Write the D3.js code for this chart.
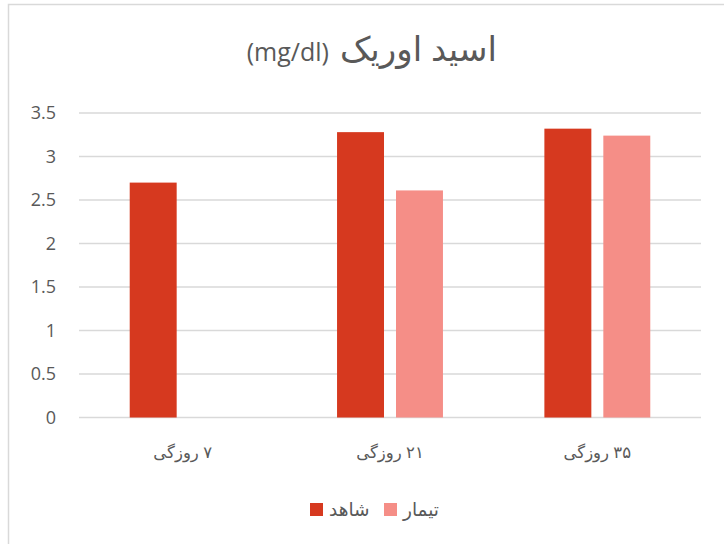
<!DOCTYPE html>
<html><head><meta charset="utf-8">
<script src="https://cdn.jsdelivr.net/npm/d3@7"></script>
<style>body{margin:0;background:#fff}svg{display:block}</style>
</head><body>
<script>
const categories = ["۷ روزگی", "۲۱ روزگی", "۳۵ روزگی"];
const seriesNames = ["شاهد", "تیمار"];
const shahedValues = [2.7, 3.28, 3.32];
const tiemarValues = [null, 2.61, 3.24];
const yTicks = [0, 0.5, 1, 1.5, 2, 2.5, 3, 3.5];
const titleFa = "اسید اوریک";
const titleUnit = "(mg/dl)";

const colors = ["#D6391F", "#F58E87"];
const W = 724, H = 544;
const font = "'Open Sans', 'DejaVu Sans', sans-serif";
const svg = d3.select("body").append("svg").attr("width", W).attr("height", H);
svg.append("rect").attr("x", 0).attr("y", 0).attr("width", W).attr("height", H).attr("fill", "#fff");
svg.append("rect").attr("x", 8.5).attr("y", 4.5).attr("width", W + 20).attr("height", H + 20)
  .attr("fill", "none").attr("stroke", "#d9d9d9").attr("stroke-width", 1.5);

const x0 = d3.scaleBand().domain(categories).range([79, 701]).padding(0);
const bw = x0.bandwidth();
const x1 = d3.scaleBand().domain(seriesNames).range([bw * 0.2446, bw * 0.7554]).paddingInner(0.2034).paddingOuter(0);
const y = d3.scaleLinear().domain([0, 3.5]).range([417.5, 113]);

// grid
svg.append("g").selectAll("line").data(yTicks).join("line")
  .attr("x1", 79).attr("x2", 701)
  .attr("y1", d => y(d)).attr("y2", d => y(d))
  .attr("stroke", "#d9d9d9").attr("stroke-width", 1.3);

// y labels
svg.append("g").selectAll("text").data(yTicks).join("text")
  .attr("x", 56).attr("y", d => y(d)).attr("dy", "0.36em")
  .attr("text-anchor", "end").attr("fill", "#595959")
  .attr("font-family", font).attr("font-size", 18).text(d => d);

const rows = categories.map((c, i) => ({cat: c, vals: [shahedValues[i], tiemarValues[i]]}));
const g = svg.append("g").selectAll("g").data(rows).join("g")
  .attr("transform", d => `translate(${x0(d.cat)},0)`);
g.selectAll("rect").data(d => d.vals.map((v, j) => ({s: seriesNames[j], v, j})).filter(e => e.v != null))
  .join("rect")
  .attr("x", d => x1(d.s)).attr("width", x1.bandwidth())
  .attr("y", d => y(d.v)).attr("height", d => y(0) - y(d.v))
  .attr("fill", d => colors[d.j]);

// x labels
svg.append("g").selectAll("text").data(categories).join("text")
  .attr("x", d => x0(d) + bw / 2).attr("y", 458)
  .attr("text-anchor", "middle").attr("fill", "#595959").attr("direction", "rtl")
  .attr("font-family", font).attr("font-size", 16.5).text(d => d);

// title
svg.append("text").attr("x", 329).attr("y", 61).attr("text-anchor", "end")
  .attr("fill", "#595959").attr("font-family", font).attr("font-size", 25).text(titleUnit);
svg.append("text").attr("x", 497).attr("y", 61).attr("text-anchor", "start")
  .attr("direction", "rtl").attr("fill", "#595959")
  .attr("font-family", font).attr("font-size", 34).text(titleFa);

// legend
const legendItems = [{name: seriesNames[0], c: colors[0], x: 310}, {name: seriesNames[1], c: colors[1], x: 384}];
const lg = svg.append("g").selectAll("g").data(legendItems).join("g")
  .attr("transform", d => `translate(${d.x},503)`);
lg.append("rect").attr("width", 13).attr("height", 13).attr("fill", d => d.c);
lg.append("text").attr("x", 19).attr("y", 13).attr("fill", "#595959")
  .attr("font-family", font).attr("font-size", 18.5).attr("direction", "ltr")
  .text(d => d.name);
</script>
</body></html>
